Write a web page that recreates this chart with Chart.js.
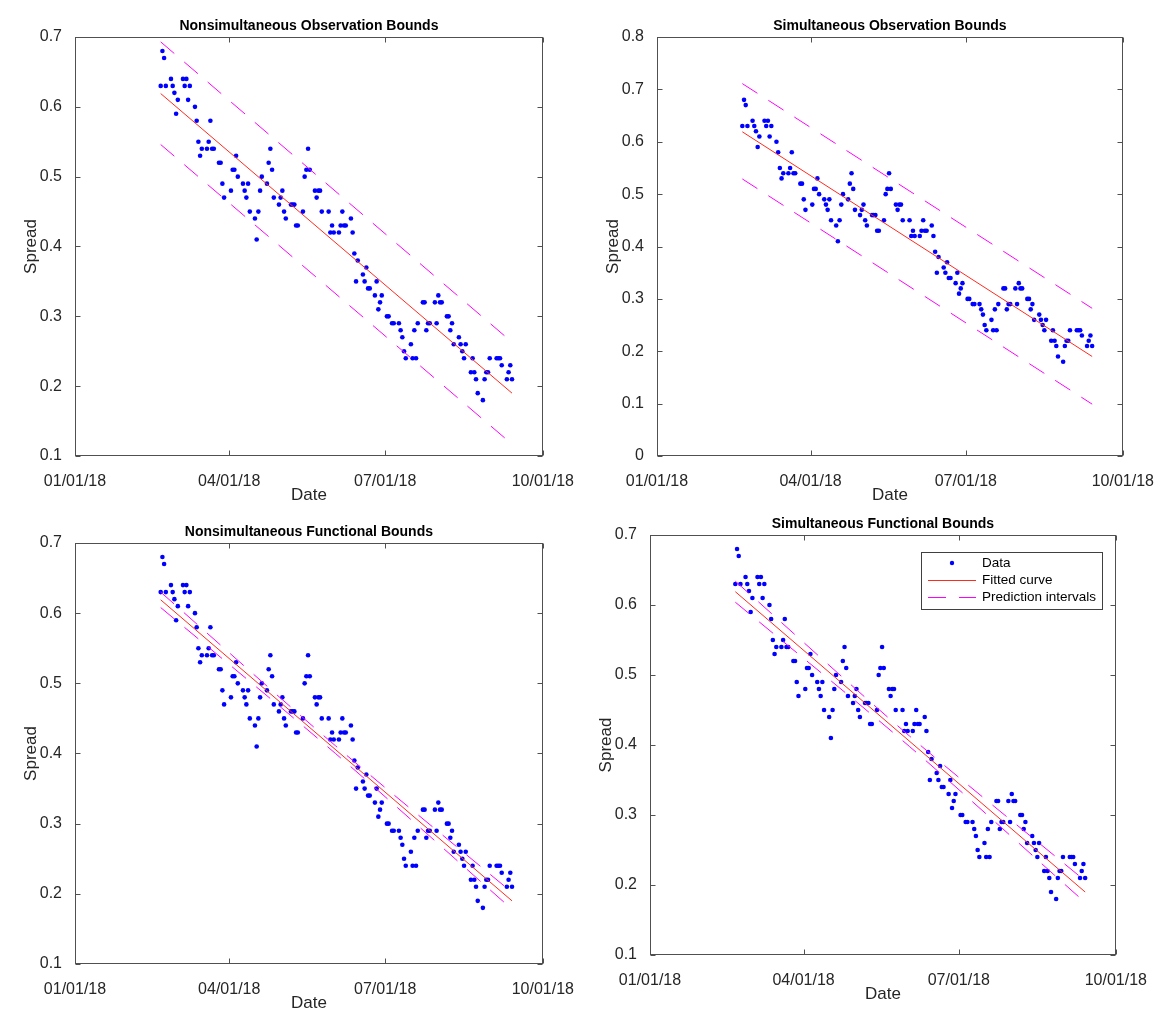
<!DOCTYPE html>
<html>
<head>
<meta charset="utf-8">
<script src="https://cdn.jsdelivr.net/npm/chart.js@4.4.1/dist/chart.umd.min.js"></script>
<style>
  html, body { margin: 0; padding: 0; background: #fff; overflow: hidden; }
  canvas { position: absolute; }
</style>
</head>
<body>
<canvas id="c1"></canvas>
<canvas id="c2"></canvas>
<canvas id="c3"></canvas>
<canvas id="c4"></canvas>
<script>
// trading days, counted as days since 01/01/18 (weekends and holidays skipped)
var days = [
    50, 51, 52, 53,
    56, 57, 58, 59, 60,
    63, 64, 65, 66, 67,
    70, 71, 72, 73, 74,
    77, 78, 79, 80, 81,
    84, 85, 86, 87,
    91, 92, 93, 94, 95,
    98, 99, 100, 101, 102,
    105, 106, 107, 108, 109,
    112, 113, 114, 115, 116,
    119, 120, 121, 122, 123,
    126, 127, 128, 129, 130,
    133, 134, 135, 136, 137,
    140, 141, 142, 143, 144,
    148, 149, 150, 151,
    154, 155, 156, 157, 158,
    161, 162, 163, 164, 165,
    168, 169, 170, 171, 172,
    175, 176, 177, 178, 179,
    182, 183, 185, 186,
    189, 190, 191, 192, 193,
    196, 197, 198, 199, 200,
    203, 204, 205, 206, 207,
    210, 211, 212, 213, 214,
    217, 218, 219, 220, 221,
    224, 225, 226, 227, 228,
    231, 232, 233, 234, 235,
    238, 239, 240, 241, 242,
    246, 247, 248, 249,
    252, 253, 254, 255
];
var spread = [
    0.63, 0.68, 0.67, 0.63,
    0.64, 0.63, 0.62, 0.59, 0.61,
    0.64, 0.63, 0.64, 0.61, 0.63,
    0.60, 0.58, 0.55, 0.53, 0.54,
    0.54, 0.55, 0.58, 0.54, 0.54,
    0.52, 0.52, 0.49, 0.47,
    0.48, 0.51, 0.51, 0.53, 0.50,
    0.49, 0.48, 0.47, 0.49, 0.45,
    0.44, 0.41, 0.45, 0.48, 0.50,
    0.49, 0.52, 0.54, 0.51, 0.47,
    0.46, 0.47, 0.48, 0.45, 0.44,
    0.46, 0.46, 0.46, 0.43, 0.43,
    0.45, 0.50, 0.51, 0.54, 0.51,
    0.48, 0.47, 0.48, 0.48, 0.45,
    0.45, 0.42, 0.43, 0.42,
    0.42, 0.43, 0.45, 0.43, 0.43,
    0.44, 0.42, 0.39, 0.35, 0.38,
    0.36, 0.35, 0.37, 0.34, 0.34,
    0.33, 0.35, 0.31, 0.32, 0.33,
    0.30, 0.30, 0.29, 0.29,
    0.29, 0.28, 0.27, 0.25, 0.24,
    0.26, 0.24, 0.28, 0.24, 0.29,
    0.32, 0.32, 0.28, 0.29, 0.29,
    0.32, 0.29, 0.33, 0.32, 0.32,
    0.30, 0.30, 0.28, 0.29, 0.26,
    0.27, 0.26, 0.25, 0.24, 0.26,
    0.22, 0.24, 0.22, 0.21, 0.19,
    0.18, 0.21, 0.22, 0.22, 0.24,
    0.24, 0.24, 0.24, 0.23,
    0.21, 0.22, 0.23, 0.21
];

var tickDays = [0, 90, 181, 273];
var tickLabels = ['01/01/18', '04/01/18', '07/01/18', '10/01/18'];

// fitted line, ends of the data range
var fitDays = [50, 255];
var fitSpread = [0.619, 0.190];

// observation bounds (nearly straight)
var obsDays = [50, 255];
var obsNonsimUpper = [0.693, 0.263];
var obsNonsimLower = [0.546, 0.117];
var obsSimUpper = [0.711, 0.282];
var obsSimLower = [0.529, 0.099];

// functional bounds, narrowest in the middle
var funcDays = [50, 152, 255];
var funcNonsimUpper = [0.630, 0.411, 0.202];
var funcNonsimLower = [0.608, 0.400, 0.178];
var funcSimUpper = [0.634, 0.413, 0.206];
var funcSimLower = [0.604, 0.398, 0.175];

var panelTitles = [
    'Nonsimultaneous Observation Bounds',
    'Simultaneous Observation Bounds',
    'Nonsimultaneous Functional Bounds',
    'Simultaneous Functional Bounds'
];
var legendLabels = ['Data', 'Fitted curve', 'Prediction intervals'];

var FONT = '"Liberation Sans", Arial, Helvetica, sans-serif';
Chart.defaults.font.family = FONT;

var DATA_COLOR = '#0000ff', FIT_COLOR = '#ff2a1f', BOUND_COLOR = '#ff00ff';
var BOUND_DASH = [18, 13];
var Y_AXIS_W = 56, X_AXIS_H = 54, TITLE_H = 22, PAD_RIGHT = 34;

function toPoints(xs, ys) {
    return xs.map(function (x, i) { return {x: x, y: ys[i]}; });
}

// MATLAB style box with inward tick marks
var boxPlugin = {
    id: 'axesBox',
    afterDraw: function (chart) {
        var a = chart.chartArea, ctx = chart.ctx;
        var L = Math.round(a.left) + 0.5, R = Math.round(a.right) - 0.5;
        var T = Math.round(a.top) + 0.5, B = Math.round(a.bottom) - 0.5;
        ctx.save();
        ctx.strokeStyle = '#505050';
        ctx.lineWidth = 1;
        ctx.strokeRect(L, T, R - L, B - T);
        ctx.beginPath();
        chart.scales.y.ticks.forEach(function (t) {
            var py = Math.round(chart.scales.y.getPixelForValue(t.value)) + 0.5;
            ctx.moveTo(L, py); ctx.lineTo(L + 5, py);
            ctx.moveTo(R, py); ctx.lineTo(R - 5, py);
        });
        chart.scales.x.ticks.forEach(function (t) {
            var px = Math.round(chart.scales.x.getPixelForValue(t.value)) + 0.5;
            ctx.moveTo(px, B); ctx.lineTo(px, B - 5);
            ctx.moveTo(px, T); ctx.lineTo(px, T + 5);
        });
        ctx.stroke();
        ctx.restore();
    }
};

// legend box inside the axes, top right
var legendPlugin = {
    id: 'insideLegend',
    afterDraw: function (chart, args, opts) {
        if (!opts.show) return;
        var a = chart.chartArea, ctx = chart.ctx;
        var w = 181, h = 57;
        var x0 = Math.round(a.right - 14 - w), y0 = Math.round(a.top + 17);
        var rows = [11, 28, 45];
        ctx.save();
        ctx.fillStyle = '#fff';
        ctx.fillRect(x0, y0, w, h);
        ctx.strokeStyle = '#404040';
        ctx.lineWidth = 1;
        ctx.strokeRect(x0 + 0.5, y0 + 0.5, w, h);
        ctx.font = '13.5px ' + FONT;
        ctx.textBaseline = 'middle';

        // Data marker
        ctx.fillStyle = DATA_COLOR;
        ctx.beginPath();
        ctx.arc(x0 + 31, y0 + rows[0], 2.2, 0, 2 * Math.PI);
        ctx.fill();
        // Fitted curve
        ctx.strokeStyle = FIT_COLOR;
        ctx.beginPath();
        ctx.moveTo(x0 + 7, y0 + rows[1] + 0.5);
        ctx.lineTo(x0 + 55, y0 + rows[1] + 0.5);
        ctx.stroke();
        // Prediction intervals
        ctx.strokeStyle = BOUND_COLOR;
        ctx.setLineDash(BOUND_DASH);
        ctx.beginPath();
        ctx.moveTo(x0 + 7, y0 + rows[2] + 0.5);
        ctx.lineTo(x0 + 55, y0 + rows[2] + 0.5);
        ctx.stroke();
        ctx.setLineDash([]);

        ctx.fillStyle = '#000';
        for (var i = 0; i < 3; i++) {
            ctx.fillText(legendLabels[i], x0 + 61, y0 + rows[i]);
        }
        ctx.restore();
    }
};

function makeChart(p) {
    var canvas = document.getElementById(p.id);
    var cw = p.w + Y_AXIS_W + PAD_RIGHT, ch = p.h + TITLE_H + X_AXIS_H;
    canvas.width = cw;
    canvas.height = ch;
    canvas.style.left = (p.left - Y_AXIS_W) + 'px';
    canvas.style.top = (p.top - TITLE_H) + 'px';
    canvas.style.width = cw + 'px';
    canvas.style.height = ch + 'px';

    new Chart(canvas.getContext('2d'), {
        type: 'scatter',
        data: {
            datasets: [
                {
                    label: legendLabels[0],
                    data: toPoints(days, spread),
                    showLine: false,
                    pointRadius: 2.3,
                    pointHoverRadius: 2.3,
                    pointBackgroundColor: DATA_COLOR,
                    pointBorderWidth: 0,
                    order: 3
                },
                {
                    label: legendLabels[1],
                    data: toPoints(fitDays, fitSpread),
                    showLine: true,
                    borderColor: FIT_COLOR,
                    borderWidth: 1,
                    pointRadius: 0,
                    order: 0
                },
                {
                    label: legendLabels[2],
                    data: toPoints(p.boundDays, p.upper),
                    showLine: true,
                    borderColor: BOUND_COLOR,
                    borderWidth: 1,
                    borderDash: BOUND_DASH,
                    tension: 0.3,
                    pointRadius: 0,
                    order: 1
                },
                {
                    label: 'lower',
                    data: toPoints(p.boundDays, p.lower),
                    showLine: true,
                    borderColor: BOUND_COLOR,
                    borderWidth: 1,
                    borderDash: BOUND_DASH,
                    tension: 0.3,
                    pointRadius: 0,
                    order: 1
                }
            ]
        },
        options: {
            responsive: false,
            animation: false,
            events: [],
            layout: { padding: { left: 0, top: 0, right: PAD_RIGHT, bottom: 0 } },
            plugins: {
                legend: { display: false },
                tooltip: { enabled: false },
                title: {
                    display: true,
                    text: p.title,
                    fullSize: false,
                    color: '#000',
                    font: { size: 14, weight: 'bold', lineHeight: 1 },
                    padding: { top: 4, bottom: 4 }
                },
                insideLegend: { show: !!p.legend }
            },
            scales: {
                x: {
                    type: 'linear',
                    min: tickDays[0],
                    max: tickDays[tickDays.length - 1],
                    grid: { display: false },
                    border: { display: false },
                    afterBuildTicks: function (s) {
                        s.ticks = tickDays.map(function (v) { return {value: v}; });
                    },
                    afterFit: function (s) { s.height = X_AXIS_H; },
                    ticks: {
                        autoSkip: false,
                        maxRotation: 0,
                        padding: 8,
                        color: '#262626',
                        font: { size: 16 },
                        callback: function (v) { return tickLabels[tickDays.indexOf(v)]; }
                    },
                    title: {
                        display: true,
                        text: 'Date',
                        color: '#262626',
                        font: { size: 17 },
                        padding: { top: 0, bottom: 4 }
                    }
                },
                y: {
                    min: p.yMin,
                    max: p.yMax,
                    grid: { display: false },
                    border: { display: false },
                    afterFit: function (s) { s.width = Y_AXIS_W; },
                    ticks: {
                        stepSize: 0.1,
                        padding: 5,
                        color: '#262626',
                        font: { size: 16 },
                        callback: function (v) { return String(Number(v.toFixed(2))); }
                    },
                    title: {
                        display: true,
                        text: 'Spread',
                        color: '#262626',
                        font: { size: 17 },
                        padding: { top: 2, bottom: 0 }
                    }
                }
            }
        },
        plugins: [boxPlugin, legendPlugin]
    });
}

makeChart({ id: 'c1', title: panelTitles[0], left: 75, top: 37, w: 473, h: 419,
    yMin: 0.1, yMax: 0.7, boundDays: obsDays, upper: obsNonsimUpper, lower: obsNonsimLower });
makeChart({ id: 'c2', title: panelTitles[1], left: 657, top: 37, w: 471, h: 419,
    yMin: 0, yMax: 0.8, boundDays: obsDays, upper: obsSimUpper, lower: obsSimLower });
makeChart({ id: 'c3', title: panelTitles[2], left: 75, top: 543, w: 473, h: 421,
    yMin: 0.1, yMax: 0.7, boundDays: funcDays, upper: funcNonsimUpper, lower: funcNonsimLower });
makeChart({ id: 'c4', title: panelTitles[3], left: 650, top: 535, w: 471, h: 420,
    yMin: 0.1, yMax: 0.7, boundDays: funcDays, upper: funcSimUpper, lower: funcSimLower, legend: true });
</script>
</body>
</html>
